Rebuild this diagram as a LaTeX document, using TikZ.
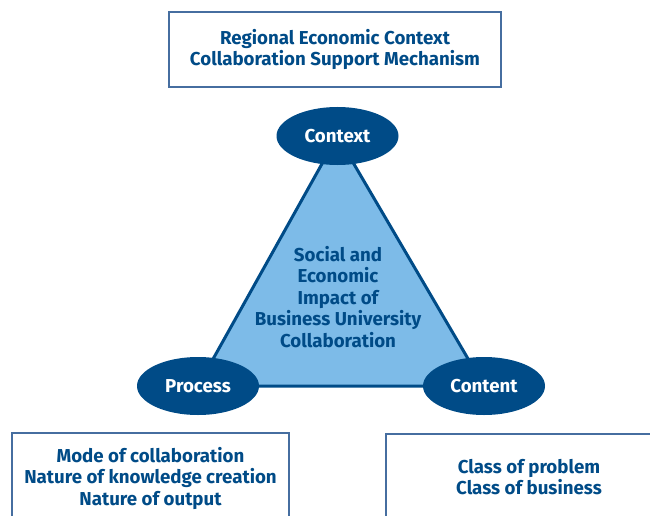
\documentclass[tikz,border=0pt]{standalone}
\usepackage{fontspec}
\setmainfont{Fira Sans}
\definecolor{uniblue}{RGB}{0, 75, 135}
\definecolor{skyblue}{RGB}{125, 187, 232}
\definecolor{boxblue}{RGB}{70, 110, 160}
\usetikzlibrary{shapes, positioning, backgrounds}

\tikzset{
  labeltext/.style={font=\bfseries\fontsize{18.7}{21.5}\selectfont, text=uniblue, align=center},
  framebox/.style={labeltext, draw=boxblue, line width=1.4pt, inner sep=0pt},
  corner/.style={ellipse, fill=uniblue, minimum width=122pt, minimum height=58pt, inner sep=0pt,
    font=\bfseries\fontsize{18.7}{21}\selectfont, text=white}
}

\begin{document}
\begin{tikzpicture}[x=1pt, y=-1pt]
  \clip (0,0) rectangle (650,516);

  % top frame
  \node[framebox, minimum width=332pt, minimum height=75pt] (region) at (335,49.5)
    {Regional Economic Context\\Collaboration Support Mechanism};

  % the three corners
  \node[corner] (context) at (337.5,136) {Context};
  \node[corner] (process) at (198,386) {Process};
  \node[corner] (content) at (484,386) {Content};

  \begin{scope}[on background layer]
    \draw[draw=uniblue, fill=skyblue, line width=3pt, line join=miter]
      (context.center) -- (process.center) -- (content.center) -- cycle;
  \end{scope}

  \node[labeltext] (impact) at (338,297)
    {Social and\\Economic\\Impact of\\Business University\\Collaboration};

  % bottom frames
  \node[framebox, minimum width=277pt, minimum height=90pt] (mode) at (150.5,478)
    {Mode of collaboration\\Nature of knowledge creation\\Nature of output};
  \node[framebox, minimum width=286pt, minimum height=86pt] (class) at (529,477)
    {Class of problem\\Class of business};
\end{tikzpicture}
\end{document}
